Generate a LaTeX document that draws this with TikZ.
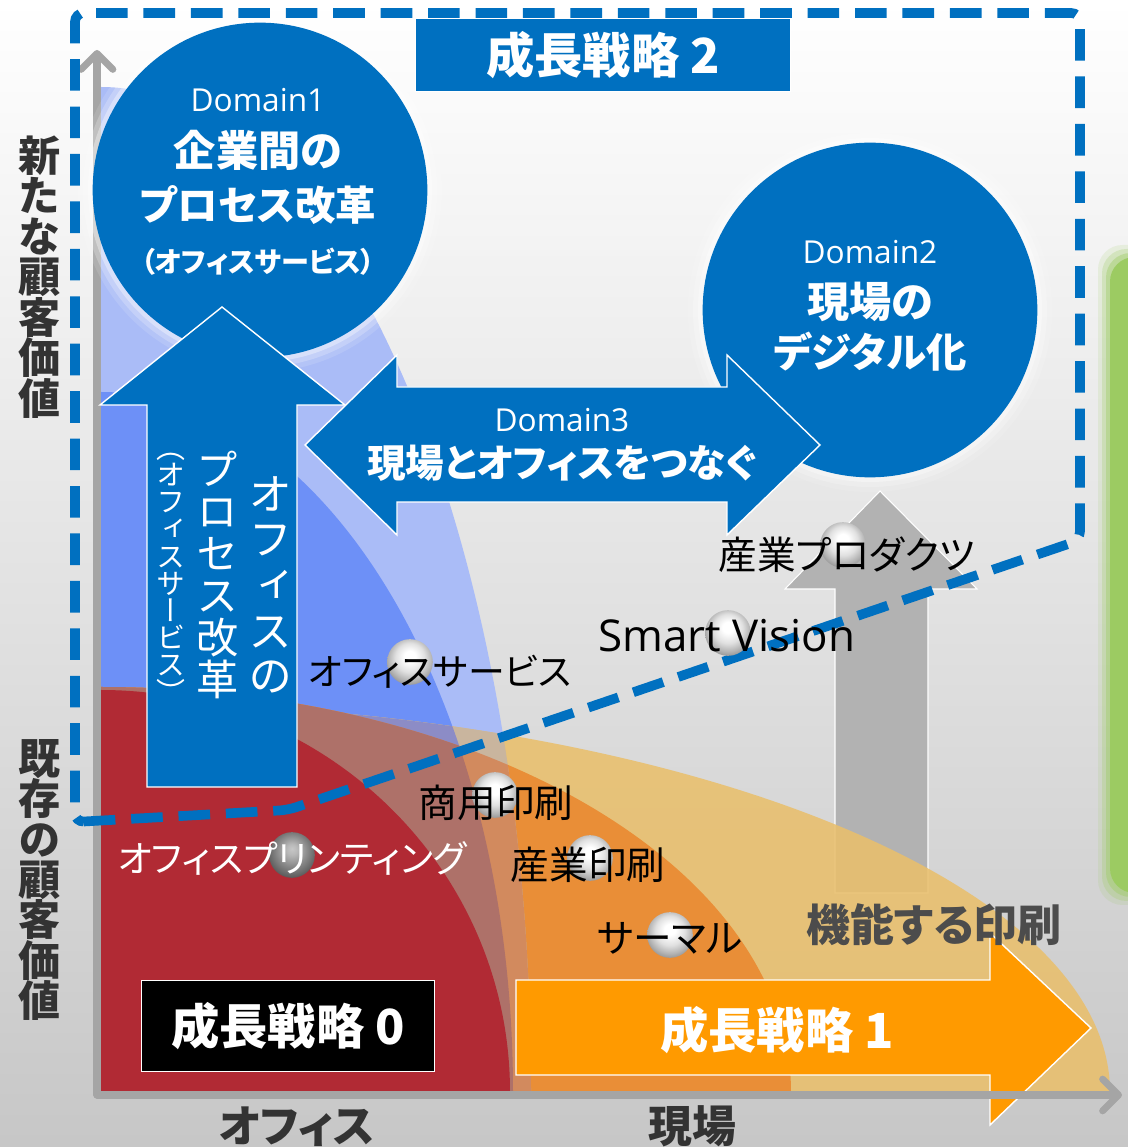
\documentclass[tikz,border=0pt]{standalone}
\usepackage{fontspec}
\newfontfamily\jpfont[RawFeature=+palt]{Noto Sans CJK JP}
\newfontfamily\jpvfont[RawFeature=+vert]{Noto Sans CJK JP}
\newfontfamily\latfont{Open Sans}
\usetikzlibrary{arrows.meta}

% quarter regions, all anchored at the axis corner
\newcommand{\regionfill}[3]{\fill[#1] (101,55) ellipse [x radius=#2, y radius=#3];}
\newcommand{\regionclip}[2]{\clip (101,55) ellipse [x radius=#1, y radius=#2];}
% fixed line pitch for the vertical columns
\newcommand{\vpitch}[2]{\fontsize{#1}{#2}\selectfont\lineskiplimit -20pt\relax}

% glossy marker balls, highlight at the top
\pgfdeclareradialshading{silverball}{\pgfpoint{0bp}{7bp}}{color(0bp)=(white); color(6bp)=(white); color(16bp)=(black!12); color(24bp)=(black!30); color(30bp)=(black!45); color(50bp)=(black!50)}
\pgfdeclareradialshading{darkball}{\pgfpoint{0bp}{7bp}}{color(0bp)=(black!22); color(6bp)=(black!28); color(16bp)=(black!45); color(24bp)=(black!58); color(30bp)=(black!68); color(50bp)=(black!70)}

\begin{document}
\begin{tikzpicture}[
    x=0.02cm, y=0.02cm,
    font=\jpfont,
    blockarrow/.style={fill=msBlue, draw=white, line width=0.8pt},
    axisline/.style={draw=axisGray, line width=4pt, line cap=round},
    domaincircle/.style={circle, fill=msBlue, minimum size=190.5pt, inner sep=0pt},
    marker/.style={circle, inner sep=0pt, minimum size=26pt, shading=silverball},
    itemlabel/.style={font=\jpfont\fontsize{22}{24}\selectfont, inner sep=0pt},
    strategybox/.style={draw=white, line width=0.6pt, text=white, inner sep=0pt,
        font=\jpfont\bfseries\fontsize{27.5}{29}\selectfont},
    vlabel/.style={align=center, inner sep=0pt, text=labelGray,
        font=\jpvfont\bfseries\vpitch{24}{23}},
    vtext/.style={align=center, inner sep=0pt, text=white,
        font=\jpvfont\vpitch{24}{24}}
]

    % Define colors
    \definecolor{msBlue}{HTML}{0070C0}
    \definecolor{axisGray}{HTML}{A5A5A5}
    \definecolor{lightBlue}{HTML}{AABCF7}
    \definecolor{midBlue}{HTML}{6D90F7}
    \definecolor{lightOrange}{HTML}{E9BF6C}
    \definecolor{darkOrange}{HTML}{E98E37}
    \definecolor{printRed}{HTML}{B12A34}
    \definecolor{blendBrown}{HTML}{AE7169}
    \definecolor{blendViolet}{HTML}{8C8CC6}
    \definecolor{blendTan}{HTML}{C9B59E}
    \definecolor{blendRust}{HTML}{D28A5E}
    \definecolor{arrowOrange}{HTML}{FF9A00}
    \definecolor{barGreen}{HTML}{9CCB62}
    \definecolor{labelGray}{HTML}{333333}

    % 1. Background
    \shade[top color=white, bottom color=black!22] (0,0) rectangle (1128,1147);
    \useasboundingbox (0,0) rectangle (1128,1147);

    % green bar at the right edge, soft edge
    \foreach \d/\o in {12/0.15, 8/0.25, 4/0.4, 0/1} {
        \fill[barGreen, opacity=\o, rounded corners=14pt] (1110-\d, 254-\d) rectangle (1160, 890+\d);
    }

    % 2. Grey arrow (functional printing)
    \filldraw[fill=gray!60, draw=white, line width=0.6pt] (835,254) -- (835,558) -- (785,558) -- (880,656) -- (977,558) -- (928,558) -- (928,254) -- cycle;

    % 3. Regions
    \begin{scope}
        \clip (101,55) rectangle (1128,1147);
        \regionfill{lightBlue}{430}{1005}
        \regionfill{midBlue}{412}{700}
        \regionfill{lightOrange, fill opacity=0.88}{1009}{390}
        \regionfill{darkOrange}{690}{405}
        \begin{scope}
            \regionclip{1009}{390}
            \regionfill{blendTan}{430}{1005}
            \regionfill{blendViolet}{412}{700}
        \end{scope}
        \begin{scope}
            \regionclip{690}{405}
            \regionfill{blendRust}{430}{1005}
            \regionfill{blendBrown}{412}{700}
        \end{scope}
        \regionfill{printRed}{409}{402}
    \end{scope}

    % 4. Strategy 1 arrow and axes
    \filldraw[fill=arrowOrange, draw=white, line width=0.8pt] (516,72) -- (516,167) -- (990,167) -- (990,214) -- (1091,119) -- (990,22) -- (990,72) -- cycle;
    \node[text=white, font=\jpfont\bfseries\fontsize{27.5}{29}\selectfont] (strat1) at (777,117) {成長戦略 1};

    \draw[axisline, -{Straight Barb[length=9pt, width=18pt, round]}] (97,52) -- (97,1097);
    \draw[axisline, -{Straight Barb[length=9pt, width=18pt, round]}] (97,52) -- (1122,52);

    % 5. Domain circles with a soft halo
    \foreach \r/\o in {182/0.12, 177/0.22, 172/0.35} {
        \fill[white, opacity=\o] (260,957) circle (\r);
        \fill[white, opacity=\o] (870,837) circle (\r);
    }
    \node[domaincircle] (domainA) at (260,957) {};
    \node[domaincircle] (domainB) at (870,837) {};

    % 6. Block arrows
    \filldraw[blockarrow] (147,360) -- (147,742) -- (100,742) -- (222,840) -- (345,742) -- (297,742) -- (297,360) -- cycle;
    \filldraw[blockarrow] (305,702) -- (397,792) -- (397,760) -- (727,760) -- (727,792) -- (820,702) -- (727,612) -- (727,645) -- (397,645) -- (397,612) -- cycle;

    % dashed frame of strategy 2
    \draw[msBlue, line width=5.5pt, dash pattern=on 18pt off 9pt, rounded corners=5pt] (75,325) -- (288,337) -- (1080,607) -- (1080,1134) -- (75,1134) -- cycle;

    % strategy boxes
    \node[strategybox, fill=msBlue, minimum width=213pt, minimum height=42pt] (strat2) at (603,1092) {成長戦略 2};
    \node[strategybox, fill=black, minimum width=167pt, minimum height=52pt] (strat0) at (288,121) {成長戦略 0};

    % 7. Texts in circles and arrows
    \node[text=white, font=\latfont\fontsize{18}{20}\selectfont] (domainAtag) at (258,1047) {Domain1};
    \node[text=white, font=\jpfont\bfseries\fontsize{24}{26}\selectfont] (domainAl1) at (258,997) {企業間の};
    \node[text=white, font=\jpfont\bfseries\fontsize{23}{25}\selectfont] (domainAl2) at (258,942) {プロセス改革};
    \node[text=white, font=\jpfont\bfseries\fontsize{16}{18}\selectfont] (domainAl3) at (258,885) {（オフィスサービス）};

    \node[text=white, font=\latfont\fontsize{18}{20}\selectfont] (domainBtag) at (870,895) {Domain2};
    \node[text=white, font=\jpfont\bfseries\fontsize{24}{26}\selectfont] (domainBl1) at (870,845) {現場の};
    \node[text=white, font=\jpfont\bfseries\fontsize{23}{25}\selectfont] (domainBl2) at (870,795) {デジタル化};

    \node[text=white, font=\latfont\fontsize{18}{20}\selectfont] (domainCtag) at (562,727) {Domain3};
    \node[text=white, font=\jpfont\bfseries\fontsize{22}{24}\selectfont] (domainCl1) at (562,684) {現場とオフィスをつなぐ};

    \node[vtext, font=\jpvfont\vpitch{25}{26}] (upcol1) at (270,562) {オ\\フ\\ィ\\ス\\の};
    \node[vtext] (upcol2) at (218,572) {プ\\ロ\\セ\\ス\\改\\革};
    \node[vtext, font=\jpvfont\vpitch{16.5}{15.5}] (upcol3) at (171,569) {（\\オ\\フ\\ィ\\ス\\サ\\ー\\ビ\\ス\\）};

    % 8. Markers and item labels
    \node[marker] (ballSvc) at (410,485) {};
    \node[itemlabel, font=\jpfont\fontsize{21}{23}\selectfont] (labSvc) at (440,475) {オフィスサービス};
    \node[marker] (ballVision) at (728,514) {};
    \node[itemlabel, font=\latfont\fontsize{25}{27}\selectfont] (labVision) at (727,511) {Smart Vision};
    \node[marker] (ballProd) at (843,602) {};
    \node[itemlabel] (labProd) at (847,592) {産業プロダクツ};
    \node[marker] (ballComm) at (495,352) {};
    \node[itemlabel] (labComm) at (496,344) {商用印刷};
    \node[marker, shading=darkball] (ballOffice) at (292,292) {};
    \node[itemlabel, text=white, font=\jpfont\fontsize{21}{23}\selectfont] (labOffice) at (292,289) {オフィスプリンティング};
    \node[marker] (ballInd) at (590,289) {};
    \node[itemlabel] (labInd) at (588,282) {産業印刷};
    \node[marker] (ballThermal) at (670,212) {};
    \node[itemlabel] (labThermal) at (670,209) {サーマル};

    \node[text=black!70, font=\jpfont\bfseries\fontsize{25}{27}\selectfont] (funcPrint) at (934,222) {機能する印刷};

    % 9. Axis labels
    \node[vlabel] (yNew) at (40,870) {新\\た\\な\\顧\\客\\価\\値};
    \node[vlabel] (yOld) at (40,267) {既\\存\\の\\顧\\客\\価\\値};
    \node[text=labelGray, font=\jpfont\bfseries\fontsize{25}{27}\selectfont] (xOffice) at (297,20) {オフィス};
    \node[text=labelGray, font=\jpfont\bfseries\fontsize{25}{27}\selectfont] (xSite) at (692,21) {現場};

\end{tikzpicture}
\end{document}
